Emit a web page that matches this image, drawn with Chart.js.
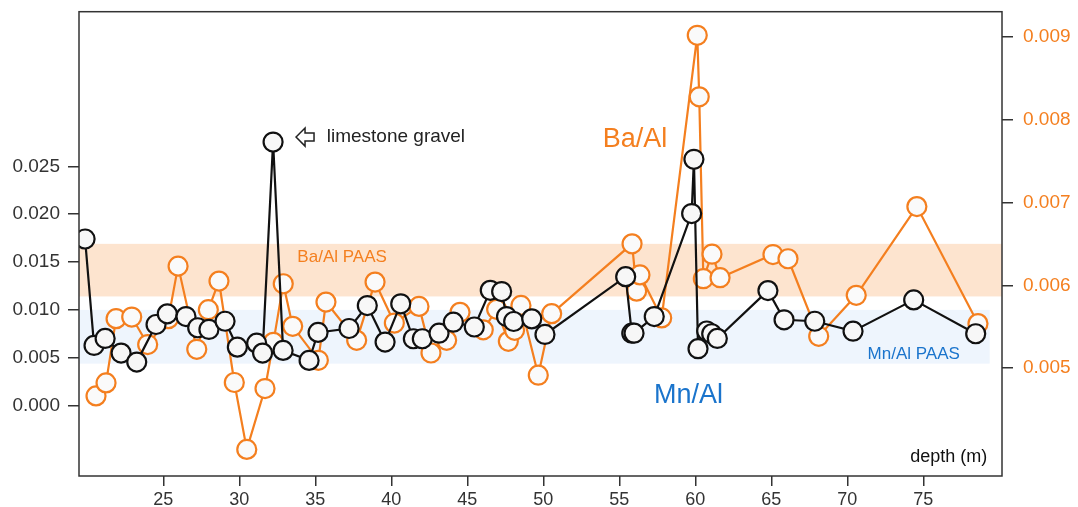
<!DOCTYPE html>
<html lang="en">
<head>
    <meta charset="UTF-8">
    <title>Mn/Al and Ba/Al vs depth</title>
    <script src="https://cdn.jsdelivr.net/npm/chart.js@4"></script>
    <style>
        body {
            margin: 0;
            background: #ffffff;
        }
        .wrap {
            width: 1078px;
            height: 507px;
        }
    </style>
</head>
<body>
    <div class="wrap">
        <canvas id="depthChart"></canvas>
    </div>
<script>
    // depth (m) and ratios
    const mnDepth = [19.85, 20.44, 21.17, 22.22, 23.25, 24.52, 25.26, 26.49, 27.26, 28.0,
        29.06, 29.87, 31.14, 31.53, 32.22, 32.88, 34.59, 35.18, 37.22, 38.42,
        39.59, 40.62, 41.45, 42.04, 43.14, 44.08, 45.46, 46.51, 47.26, 47.58,
        48.05, 49.24, 50.11, 55.42, 55.82, 55.97, 57.30, 59.76, 59.91, 60.18,
        60.75, 61.08, 61.45, 64.78, 65.84, 67.86, 70.38, 74.37, 78.45];
    const mnAl = [0.0174, 0.00628, 0.00701, 0.00548, 0.00454, 0.00847, 0.00958, 0.0093, 0.00813, 0.00795,
        0.00881, 0.0061, 0.00652, 0.00548, 0.02753, 0.00576, 0.00472, 0.00764, 0.00805, 0.01045,
        0.00663, 0.01063, 0.00698, 0.00698, 0.00756, 0.00871, 0.00821, 0.01204, 0.01191, 0.0093,
        0.00878, 0.00906, 0.00743, 0.01347, 0.00756, 0.00756, 0.0093, 0.02006, 0.02573, 0.00594,
        0.00779, 0.0075, 0.00701, 0.01201, 0.00896, 0.00881, 0.00777, 0.01104, 0.0075];

    const baDepth = [20.57, 21.23, 21.89, 22.92, 23.97, 25.33, 25.97, 27.20, 27.96, 28.66,
        29.67, 30.49, 31.69, 32.24, 32.89, 33.51, 35.20, 35.70, 37.72, 38.93,
        40.20, 41.82, 42.61, 43.64, 44.52, 46.05, 46.93, 47.70, 48.11, 48.53,
        49.67, 50.55, 55.84, 56.14, 56.36, 57.79, 60.13, 60.26, 60.53, 61.10,
        61.63, 65.11, 66.10, 68.12, 70.59, 74.58, 78.60];
    const baAl = [0.004666, 0.004823, 0.005599, 0.005618, 0.005286, 0.005599, 0.006233, 0.005229, 0.005707, 0.006052,
        0.004828, 0.00402, 0.004755, 0.005313, 0.00602, 0.005506, 0.005096, 0.005799, 0.005337, 0.00604,
        0.005546, 0.005747, 0.005184, 0.005337, 0.005675, 0.005464, 0.005711, 0.005325, 0.005458, 0.005759,
        0.004916, 0.005659, 0.006502, 0.005931, 0.006127, 0.005608, 0.00902, 0.008277, 0.006081, 0.006377,
        0.006093, 0.006373, 0.006322, 0.005386, 0.00588, 0.006952, 0.005539];

    // PAAS reference ranges
    const baPaas = [0.005867, 0.006502];
    const mnPaas = [0.00438, 0.0100];
    const mnPaasEnd = 79.37;

    const depthTicks = [25, 30, 35, 40, 45, 50, 55, 60, 65, 70, 75];
    const mnTicks = [0, 0.005, 0.010, 0.015, 0.020, 0.025];
    const baTicks = [0.005, 0.006, 0.007, 0.008, 0.009];

    const FONT = "'Liberation Sans', Arial, sans-serif";
    const ORANGE = '#f47f1f';
    const BLUE = '#1a74cc';
    const INK = '#333333';

    function toPoints(xs, ys) {
        return xs.map((x, i) => ({ x: x, y: ys[i] }));
    }

    function setTicks(values) {
        return function (scale) {
            scale.ticks = values.map(v => ({ value: v }));
        };
    }

    function fixWidth(w) {
        return function (scale) {
            scale.width = w;
            scale.paddingTop = 0;
            scale.paddingBottom = 0;
        };
    }

    // shaded PAAS bands behind the data
    const bandsPlugin = {
        id: 'bands',
        beforeDatasetsDraw(chart) {
            const { ctx, chartArea: a, scales } = chart;
            ctx.save();
            ctx.fillStyle = '#fde4cf';
            const b1 = scales.y2.getPixelForValue(baPaas[1]);
            const b0 = scales.y2.getPixelForValue(baPaas[0]);
            ctx.fillRect(a.left, b1, a.right - a.left, b0 - b1);
            ctx.fillStyle = '#eef5fd';
            const m1 = scales.y.getPixelForValue(mnPaas[1]);
            const m0 = scales.y.getPixelForValue(mnPaas[0]);
            const mx = scales.x.getPixelForValue(mnPaasEnd);
            ctx.fillRect(a.left, m1, mx - a.left, m0 - m1);
            ctx.restore();
        }
    };

    // frame and text labels
    const labelsPlugin = {
        id: 'labels',
        afterDraw(chart) {
            const { ctx, chartArea: a, scales } = chart;
            const px = v => scales.x.getPixelForValue(v);
            const py = v => scales.y.getPixelForValue(v);
            ctx.save();

            ctx.strokeStyle = INK;
            ctx.lineWidth = 1.5;
            ctx.strokeRect(a.left, a.top, a.right - a.left, a.bottom - a.top);

            ctx.textBaseline = 'middle';

            ctx.fillStyle = ORANGE;
            ctx.font = '27px ' + FONT;
            ctx.textAlign = 'center';
            ctx.fillText('Ba/Al', px(56.03), py(0.02784));

            ctx.fillStyle = BLUE;
            ctx.fillText('Mn/Al', px(59.55), py(0.00107));

            ctx.font = '17px ' + FONT;
            ctx.fillStyle = ORANGE;
            ctx.fillText('Ba/Al PAAS', px(36.76), py(0.01548));
            ctx.fillStyle = BLUE;
            ctx.fillText('Mn/Al PAAS', px(74.37), py(0.00534));

            ctx.fillStyle = '#111';
            ctx.font = '18px ' + FONT;
            ctx.textAlign = 'right';
            ctx.fillText('depth (m)', px(79.21), py(-0.00535));

            ctx.textAlign = 'left';
            ctx.fillStyle = '#222';
            ctx.font = '19px ' + FONT;
            ctx.fillText('limestone gravel', px(35.75), py(0.02805));

            // hollow arrow pointing at the spike
            const tx = px(33.73), ty = py(0.02805);
            ctx.beginPath();
            ctx.moveTo(tx, ty);
            ctx.lineTo(tx + 9, ty - 9);
            ctx.lineTo(tx + 9, ty - 4);
            ctx.lineTo(tx + 18, ty - 4);
            ctx.lineTo(tx + 18, ty + 4);
            ctx.lineTo(tx + 9, ty + 4);
            ctx.lineTo(tx + 9, ty + 9);
            ctx.closePath();
            ctx.strokeStyle = '#222';
            ctx.lineWidth = 1.5;
            ctx.stroke();

            ctx.restore();
        }
    };

    const ctx = document.getElementById('depthChart').getContext('2d');

    new Chart(ctx, {
        type: 'line',
        data: {
            datasets: [
                {
                    label: 'Mn/Al',
                    data: toPoints(mnDepth, mnAl),
                    yAxisID: 'y',
                    borderColor: '#111111',
                    borderWidth: 2.2,
                    pointRadius: 9.5,
                    pointBorderWidth: 2.2,
                    pointBackgroundColor: '#f7f7f7',
                    pointBorderColor: '#111111',
                    tension: 0,
                    fill: false
                },
                {
                    label: 'Ba/Al',
                    data: toPoints(baDepth, baAl),
                    yAxisID: 'y2',
                    borderColor: ORANGE,
                    borderWidth: 2.2,
                    pointRadius: 9.5,
                    pointBorderWidth: 2.2,
                    pointBackgroundColor: '#fafafa',
                    pointBorderColor: ORANGE,
                    tension: 0,
                    fill: false
                }
            ]
        },
        options: {
            responsive: true,
            maintainAspectRatio: false,
            animation: false,
            layout: { padding: { top: 11, left: 0, right: 0, bottom: 0 } },
            plugins: {
                legend: { display: false },
                tooltip: { enabled: false }
            },
            scales: {
                x: {
                    type: 'linear',
                    min: 19.45,
                    max: 80.18,
                    afterBuildTicks: setTicks(depthTicks),
                    afterFit(scale) {
                        scale.height = 31;
                        scale.paddingLeft = 0;
                        scale.paddingRight = 0;
                    },
                    border: { display: false },
                    grid: { drawOnChartArea: false, tickLength: 10, color: INK, lineWidth: 1.5 },
                    ticks: {
                        color: INK,
                        padding: 3,
                        maxRotation: 0,
                        font: { family: FONT, size: 18 },
                        callback: v => String(v)
                    }
                },
                y: {
                    type: 'linear',
                    position: 'left',
                    min: -0.00736,
                    max: 0.04115,
                    afterBuildTicks: setTicks(mnTicks),
                    afterFit: fixWidth(79),
                    border: { display: false },
                    grid: { drawOnChartArea: false, tickLength: 11, color: INK, lineWidth: 1.5 },
                    ticks: {
                        color: INK,
                        padding: 8,
                        font: { family: FONT, size: 19 },
                        callback: v => v.toFixed(3)
                    }
                },
                y2: {
                    type: 'linear',
                    position: 'right',
                    min: 0.003699,
                    max: 0.009305,
                    afterBuildTicks: setTicks(baTicks),
                    afterFit: fixWidth(76),
                    border: { display: false },
                    grid: { drawOnChartArea: false, tickLength: 11, color: INK, lineWidth: 1.5 },
                    ticks: {
                        color: ORANGE,
                        padding: 10,
                        font: { family: FONT, size: 19 },
                        callback: v => v.toFixed(3)
                    }
                }
            }
        },
        plugins: [bandsPlugin, labelsPlugin]
    });
</script>
</body>
</html>
